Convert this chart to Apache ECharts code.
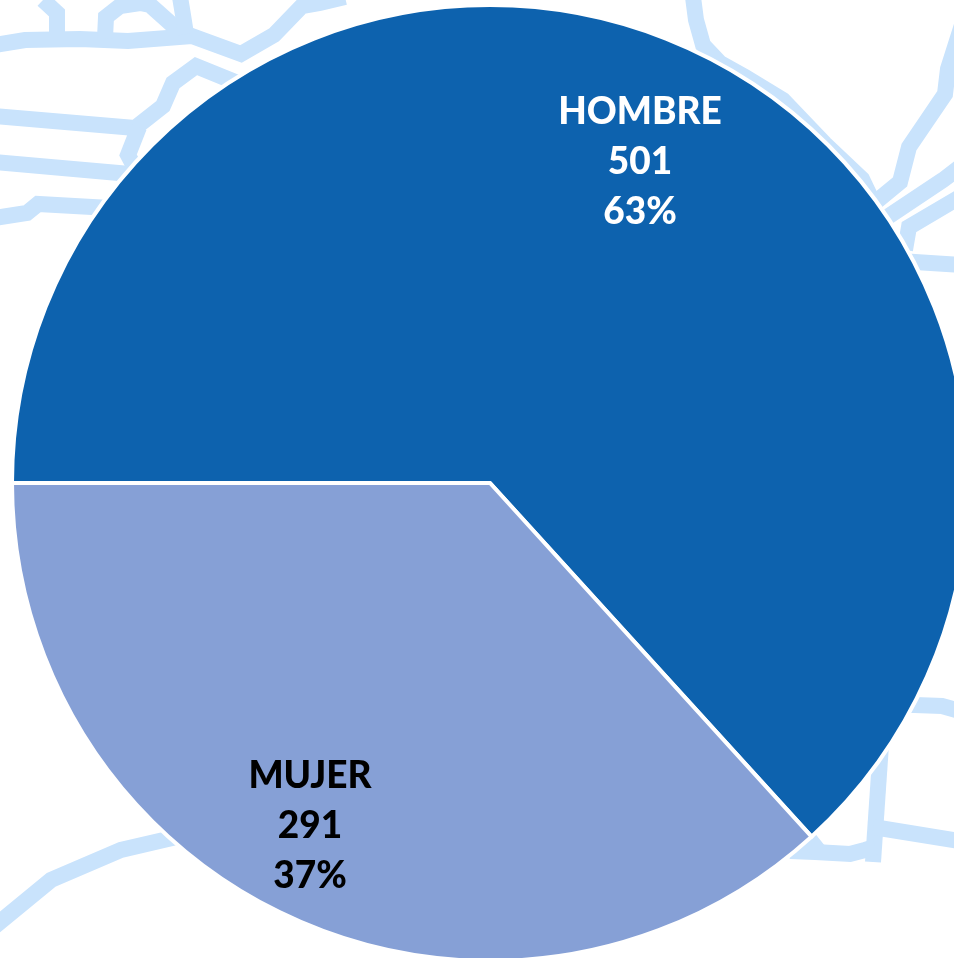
<!DOCTYPE html>
<html>
<head>
<meta charset="utf-8">
<style>
html, body { margin: 0; padding: 0; background: #fff; }
#chart { width: 954px; height: 958px; }
</style>
<script src="https://cdn.jsdelivr.net/npm/echarts@6/dist/echarts.min.js"></script>
</head>
<body>
<div id="chart"></div>
<script>
const categories = ["HOMBRE", "MUJER"];
const counts = [501, 291];

// street map behind the pie (x, y)
const mainRoad = [[-5, 45], [25, 40], [80, 39], [128, 41], [192, 36], [241, 54], [274, 35], [302, 6], [320, 3], [345, -3]];
const topLeftBranch = [[43, 0], [57, 13], [57, 36]];
const topLoop = [[105, 38], [106, 17], [120, 6], [140, 3], [150, 5], [178, 30]];
const topStub = [[180, -3], [183, 15], [186, 34]];
const leftRoad1 = [[-5, 116], [135, 128], [163, 106], [173, 83], [196, 66], [240, 84]];
const leftBend = [[139, 127], [128, 155], [136, 170]];
const leftRoad2 = [[-5, 162], [130, 174]];
const leftRoad3 = [[-5, 218], [27, 213], [38, 204], [110, 208]];
const topRightRoad = [[693, -3], [696, 20], [703, 45], [720, 63], [745, 77], [783, 100], [825, 144], [862, 179], [872, 200]];
const rightRoad1 = [[962, 25], [948, 69], [945, 94], [909, 147], [900, 182], [872, 205]];
const rightRoad2 = [[960, 167], [943, 180], [880, 222]];
const rightRoad3 = [[960, 197], [909, 227], [905, 250]];
const rightRoad4 = [[900, 261], [915, 262], [960, 265]];
const lowerRoad1 = [[895, 705], [915, 705], [942, 706], [960, 711]];
const lowerVertical = [[882, 730], [873, 862]];
const lowerRoad2 = [[873, 827], [960, 841]];
const lowerRoad3 = [[790, 851], [815, 852], [850, 854], [865, 850], [875, 847]];
const lowerStub = [[806, 835], [818, 850]];
const bottomRoad = [[-5, 926], [51, 880], [121, 850], [168, 839], [190, 834]];

const roads = [mainRoad, topLeftBranch, topLoop, topStub, leftRoad1, leftBend, leftRoad2, leftRoad3,
    topRightRoad, rightRoad1, rightRoad2, rightRoad3, rightRoad4,
    lowerRoad1, lowerVertical, lowerRoad2, lowerRoad3, lowerStub, bottomRoad];

const chart = echarts.init(document.getElementById("chart"));

const option = {
    animation: false,
    backgroundColor: "#ffffff",
    grid: { left: 0, right: 0, top: 0, bottom: 0 },
    xAxis: { type: "value", min: 0, max: 954, show: false },
    yAxis: { type: "value", min: 0, max: 958, inverse: true, show: false },
    series: roads.map(road => ({
        type: "line",
        data: road,
        symbol: "none",
        silent: true,
        z: 1,
        lineStyle: { color: "#c9e3fc", width: 16, join: "miter", cap: "butt" }
    })).concat([{
        type: "pie",
        z: 5,
        center: [490, 483],
        radius: [0, 478],
        startAngle: 180,
        percentPrecision: 0,
        itemStyle: { borderColor: "#ffffff", borderWidth: 4 },
        label: {
            position: "inside",
            formatter: "{b}\n{c}\n{d}%",
            fontFamily: "Lato",
            fontWeight: 900,
            fontSize: 37,
            lineHeight: 50
        },
        labelLine: { show: false },
        labelLayout: params => params.dataIndex === 0 ? { x: 640, y: 162 } : { x: 310, y: 826 },
        data: [
            { name: categories[0], value: counts[0], itemStyle: { color: "#0d62ae" }, label: { color: "#ffffff" } },
            { name: categories[1], value: counts[1], itemStyle: { color: "#86a0d6" }, label: { color: "#000000" } }
        ]
    }])
};

chart.setOption(option);
</script>
</body>
</html>
